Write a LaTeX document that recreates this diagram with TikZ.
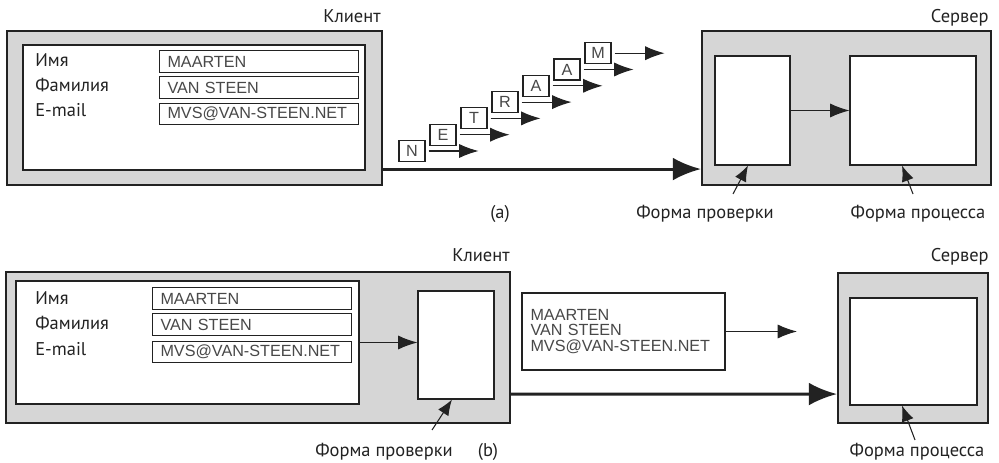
\documentclass[tikz,border=0pt]{standalone}
\usepackage{fontspec}
\setmainfont{PT Sans}
\newfontfamily\arialfont{Liberation Sans}
\usetikzlibrary{arrows.meta,positioning,calc}
\definecolor{Ink}{HTML}{222222}
\definecolor{Shade}{HTML}{D6D6D6}
\definecolor{Type}{HTML}{484848}
\newcommand{\labfont}{\fontsize{10.5}{12}\selectfont}
\newcommand{\typefont}{\arialfont\fontsize{9.2}{8.8}\selectfont}
\tikzset{
  >=Latex,
  host/.style={draw=Ink,line width=1.2pt,fill=Shade,inner sep=0pt},
  pane/.style={draw=Ink,line width=.6pt,fill=white,inner sep=0pt},
  field/.style={pane,font=\typefont,text=Type,minimum height=.43cm,text width=3.66cm,inner xsep=.16cm,align=left},
  pkt/.style={pane,font=\typefont,text=Type,minimum width=.52cm,minimum height=.42cm},
  lab/.style={font=\labfont,text=Ink,inner sep=0pt},
  wire/.style={-{Latex[length=11pt,width=8pt]},line width=.6pt,draw=Ink},
  bigwire/.style={-{Latex[length=16pt,width=13pt]},line width=1.7pt,draw=Ink},
  ptr/.style={-{Latex[length=9pt,width=7pt]},line width=.6pt,draw=Ink}
}

\begin{document}
\begin{tikzpicture}[x=.2mm,y=-.2mm]
    \useasboundingbox (0,0) rectangle (999,463);
    % (a) the form is sent key by key
    \node[host,minimum width=7.5cm,minimum height=3.08cm] (cliA) at (194.5,108) {};
    \node[pane,minimum width=6.84cm,minimum height=2.5cm] (formA) at (194,107.5) {};
    \node[lab,anchor=base east] (cliAcap) at (381,23) {Клиент};
    \node[lab,anchor=base west] (nameA) at (35,67) {Имя};
    \node[lab,anchor=base west] (surA) at (35,92) {Фамилия};
    \node[lab,anchor=base west] (mailA) at (35,117) {E-mail};
    \node[field] (fnameA) at (259,61.5) {MAARTEN};
    \node[field] (fsurA) at (259,87.5) {VAN STEEN};
    \node[field] (fmailA) at (259,114) {MVS@VAN-STEEN.NET};
    \foreach \ch [count=\i from 0] in {N,E,T,R,A,A,M}{
      \node[pkt] (pk\i) at ({412+31*\i},{151-16.3*\i}) {\ch};
      \coordinate (pkend\i) at ([xshift=1.06cm]pk\i.east);
      \draw[wire,shorten <=.6mm] (pk\i.east) -- (pkend\i);
    }
    \node[host,minimum width=5.78cm,minimum height=3.08cm] (srvA) at (846.5,108) {};
    \node[lab,anchor=base east] (srvAcap) at (989,23) {Сервер};
    \node[pane,minimum width=1.5cm,minimum height=2.18cm] (chkA) at (752.5,110.5) {};
    \node[pane,minimum width=2.52cm,minimum height=2.18cm] (procA) at (913,110.5) {};
    \draw[wire] (chkA.east) -- (procA.west);
    \draw[bigwire] ([yshift=3.4mm]cliA.south east) -- ([yshift=3.4mm]srvA.south west);
    \node[lab,anchor=base] (tagA) at (500,219) {(a)};
    \node[lab,anchor=base] (chkAlab) at (705,219) {Форма проверки};
    \node[lab,anchor=base] (procAlab) at (918,219) {Форма процесса};
    \coordinate (chkAtail) at (733,194);
    \coordinate (procAtail) at (913,194);
    \draw[ptr] (chkAtail) -- ([xshift=-.9mm]chkA.south);
    \draw[ptr] (procAtail) -- ([xshift=-2.2mm]procA.south);
    % (b) the form is checked first, then sent whole
    \node[host,minimum width=10.08cm,minimum height=3.02cm] (cliB) at (258,347.5) {};
    \node[pane,minimum width=6.86cm,minimum height=2.46cm] (formB) at (187.5,342.5) {};
    \node[lab,anchor=base east] (cliBcap) at (510,262) {Клиент};
    \node[lab,anchor=base west] (nameB) at (35,305) {Имя};
    \node[lab,anchor=base west] (surB) at (35,330) {Фамилия};
    \node[lab,anchor=base west] (mailB) at (35,356) {E-mail};
    \node[field] (fnameB) at (252,298.5) {MAARTEN};
    \node[field] (fsurB) at (252,324.5) {VAN STEEN};
    \node[field] (fmailB) at (252,352) {MVS@VAN-STEEN.NET};
    \node[pane,minimum width=1.52cm,minimum height=2.16cm] (chkB) at (456,345) {};
    \draw[wire] (formB.east) -- (formB.east -| chkB.west);
    \node[pane,font=\typefont,text=Type,minimum width=4.06cm,minimum height=1.54cm,text width=3.72cm,inner xsep=.17cm,align=left] (msgB) at (623.5,331.5) {MAARTEN\\VAN STEEN\\MVS@VAN-STEEN.NET};
    \coordinate (msgBend) at (797,331.5);
    \draw[wire] (msgB.east) -- (msgBend);
    \node[host,minimum width=3cm,minimum height=3cm] (srvB) at (913,348) {};
    \node[lab,anchor=base east] (srvBcap) at (989,262) {Сервер};
    \node[pane,minimum width=2.54cm,minimum height=2.14cm] (procB) at (913.5,351.5) {};
    \draw[bigwire] ([yshift=6mm]cliB.south east) -- ([yshift=6mm]srvB.south west);
    \node[lab,anchor=base] (chkBlab) at (384,456) {Форма проверки};
    \node[lab,anchor=base] (tagB) at (488,456) {(b)};
    \node[lab,anchor=base] (procBlab) at (917,456) {Форма процесса};
    \coordinate (chkBtail) at (432,430);
    \coordinate (procBtail) at (915,440);
    \draw[ptr] (chkBtail) -- ([xshift=-.8mm]chkB.south);
    \draw[ptr] (procBtail) -- ([xshift=-2.3mm]procB.south);
\end{tikzpicture}
\end{document}
